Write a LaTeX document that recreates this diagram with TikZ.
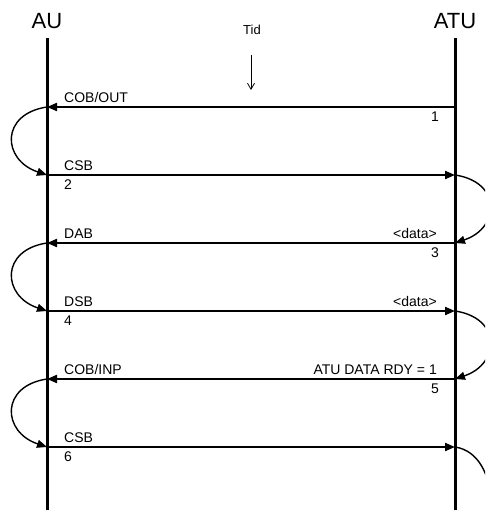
\documentclass[tikz,border=0pt]{standalone}
\usepackage{fontspec}
\setmainfont{Liberation Sans}
\usetikzlibrary{arrows.meta, positioning}

\begin{document}
\begin{tikzpicture}[x=1pt,y=-1pt]

\tikzset{lifeline/.style = {line width=3pt}}
\tikzset{msg/.style = {line width=2pt, -{Triangle[length=10pt,width=8pt]}}}
\tikzset{turn/.style = {line width=1.4pt, -{Triangle[length=10pt,width=8pt]}}}
\tikzset{lbl/.style = {inner sep=0pt, text depth=0pt, font=\fontsize{14}{16}\selectfont}}
\tikzset{head/.style = {inner sep=0pt, font=\fontsize{22}{26}\selectfont}}

\useasboundingbox (0,0) rectangle (485,510);
\clip (0,0) rectangle (485,510);

% lifelines
\coordinate (autop) at (47,38);
\coordinate (aubot) at (47,512);
\coordinate (atutop) at (455,38);
\coordinate (atubot) at (455,512);
\draw[lifeline] (autop) -- (aubot);
\draw[lifeline] (atutop) -- (atubot);
\node[head] (au) at (47,21) {AU};
\node[head] (atu) at (455,21) {ATU};

% time
\node[inner sep=0pt, font=\fontsize{13}{15}\selectfont] (tid) at (252,30) {Tid};
\coordinate (tida) at (251,55);
\coordinate (tidb) at (251,90);
\draw[line width=0.8pt, -{Straight Barb[length=6pt,width=7pt]}] (tida) -- (tidb);

% points on the lifelines
\coordinate (au1) at (47,107);  \coordinate (atu1) at (455,107);
\coordinate (au2) at (47,175);  \coordinate (atu2) at (455,175);
\coordinate (au3) at (47,243);  \coordinate (atu3) at (455,243);
\coordinate (au4) at (47,311);  \coordinate (atu4) at (455,311);
\coordinate (au5) at (47,379);  \coordinate (atu5) at (455,379);
\coordinate (au6) at (47,447);  \coordinate (atu6) at (455,447);
\coordinate (atu7) at (455,560);

% messages
\draw[msg] (atu1) -- (au1);
\draw[msg] (au2) -- (atu2);
\draw[msg] (atu3) -- (au3);
\draw[msg] (au4) -- (atu4);
\draw[msg] (atu5) -- (au5);
\draw[msg] (au6) -- (atu6);

% turns
\draw[turn] (au1) .. controls +(-47,7) and +(-45,-15) .. (au2);
\draw[turn] (au3) .. controls +(-47,7) and +(-45,-15) .. (au4);
\draw[turn] (au5) .. controls +(-47,7) and +(-45,-15) .. (au6);
\draw[turn] (atu2) .. controls +(47,7) and +(45,-15) .. (atu3);
\draw[turn] (atu4) .. controls +(47,7) and +(45,-15) .. (atu5);
\draw[turn] (atu6) .. controls +(47,7) and +(45,-15) .. (atu7);

% labels
\node[lbl, above right=4pt and 17pt of au1] (l1) {COB/OUT};
\node[lbl, above right=4pt and 17pt of au2] (l2) {CSB};
\node[lbl, above right=4pt and 17pt of au3] (l3) {DAB};
\node[lbl, above left=4pt and 18pt of atu3] (d3) {<data>};
\node[lbl, above right=4pt and 17pt of au4] (l4) {DSB};
\node[lbl, above left=4pt and 18pt of atu4] (d4) {<data>};
\node[lbl, above right=4pt and 17pt of au5] (l5) {COB/INP};
\node[lbl, above left=4pt and 18pt of atu5] (d5) {ATU DATA RDY = 1};
\node[lbl, above right=4pt and 17pt of au6] (l6) {CSB};
\node[lbl, below left=5pt and 16pt of atu1] (n1) {1};
\node[lbl, below right=5pt and 17pt of au2] (n2) {2};
\node[lbl, below left=5pt and 16pt of atu3] (n3) {3};
\node[lbl, below right=5pt and 17pt of au4] (n4) {4};
\node[lbl, below left=5pt and 16pt of atu5] (n5) {5};
\node[lbl, below right=5pt and 17pt of au6] (n6) {6};
\end{tikzpicture}
\end{document}
